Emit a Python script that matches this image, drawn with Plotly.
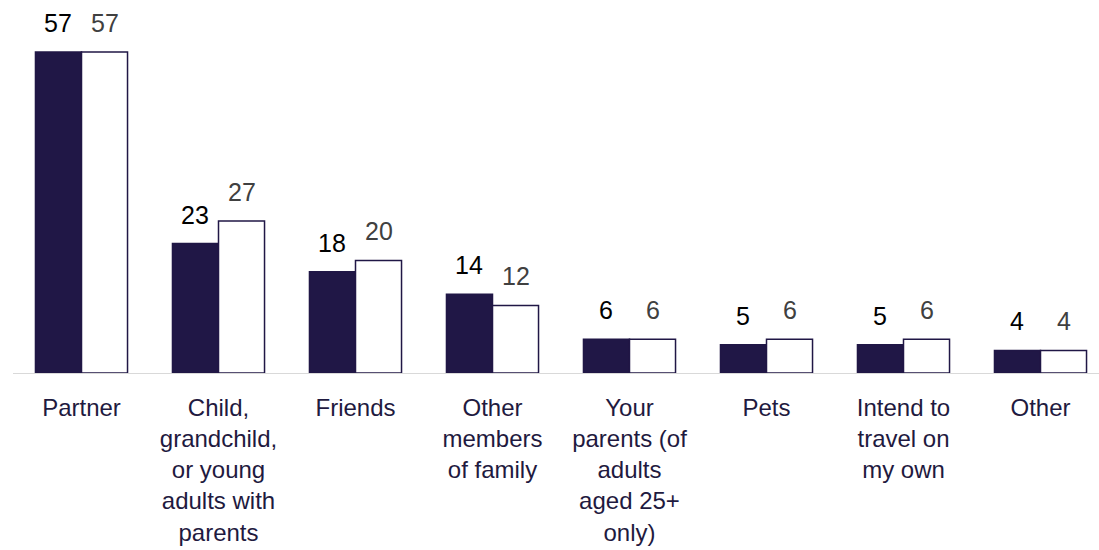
import plotly.graph_objects as go

# Who respondents intend to travel with (%)
categories = [
    "Partner",
    "Child, grandchild, or young adults with parents",
    "Friends",
    "Other members of family",
    "Your parents (of adults aged 25+ only)",
    "Pets",
    "Intend to travel on my own",
    "Other",
]
tick_labels = [
    "Partner",
    "Child,<br>grandchild,<br>or young<br>adults with<br>parents",
    "Friends",
    "Other<br>members<br>of family",
    "Your<br>parents (of<br>adults<br>aged 25+<br>only)",
    "Pets",
    "Intend to<br>travel on<br>my own",
    "Other",
]
series_a = [57, 23, 18, 14, 6, 5, 5, 4]
series_b = [57, 27, 20, 12, 6, 6, 6, 4]

NAVY = "#201746"
FONT = "Liberation Sans, Arial, sans-serif"
BARGAP = 0.328

x = list(range(len(categories)))

fig = go.Figure()
fig.add_trace(go.Bar(
    x=x, y=series_a, name="A",
    marker=dict(color=NAVY, line=dict(color=NAVY, width=1.5)),
    hoverinfo="skip",
))
fig.add_trace(go.Bar(
    x=x, y=series_b, name="B",
    marker=dict(color="white", line=dict(color=NAVY, width=1.5)),
    hoverinfo="skip",
))

# value labels above each bar
half = (1 - BARGAP) / 4
annotations = []
for i in x:
    annotations.append(dict(
        x=i - half, y=series_a[i], xref="x", yref="y", text=str(series_a[i]),
        showarrow=False, yanchor="bottom", yshift=13,
        font=dict(family=FONT, size=25, color="#000000"),
    ))
    annotations.append(dict(
        x=i + half, y=series_b[i], xref="x", yref="y", text=str(series_b[i]),
        showarrow=False, yanchor="bottom", yshift=13,
        font=dict(family=FONT, size=25, color="#404040"),
    ))

fig.update_layout(
    width=1099, height=550,
    margin=dict(l=13, r=0, t=0, b=177),
    barmode="group", bargap=BARGAP, bargroupgap=0,
    showlegend=False,
    plot_bgcolor="white", paper_bgcolor="white",
    annotations=annotations,
    xaxis=dict(
        range=[-0.5, 7.427],
        tickmode="array", tickvals=x, ticktext=tick_labels,
        ticks="", showgrid=False, zeroline=False,
        showline=True, linecolor="#d9d9d9", linewidth=1,
        ticklabelstandoff=13,
        tickfont=dict(family=FONT, size=24, color="#1f1a40"),
    ),
    yaxis=dict(
        range=[0, 66.25], visible=False, showgrid=False, zeroline=False,
    ),
)

fig.write_html("out.html")
